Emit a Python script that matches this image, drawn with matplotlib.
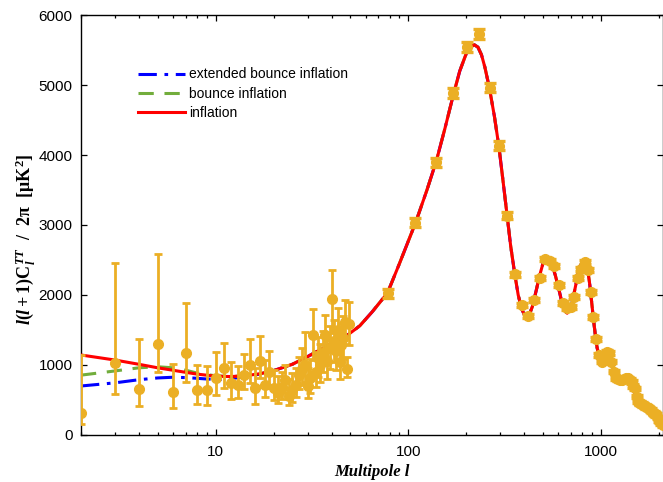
import numpy as np
import matplotlib
matplotlib.use("Agg")
import matplotlib.pyplot as plt
from matplotlib.ticker import LogLocator, NullFormatter, FixedLocator

plt.rcParams['font.family'] = ['Liberation Sans', 'DejaVu Sans']
plt.rcParams['mathtext.fontset'] = 'custom'
plt.rcParams['mathtext.rm'] = 'Liberation Serif:bold'
plt.rcParams['mathtext.it'] = 'Liberation Serif:bold:italic'
plt.rcParams['mathtext.bf'] = 'Liberation Serif:bold'

# low-l data (unbinned), value with upper / lower ends of the error bar
low_l = list(range(2, 50))
low_val = [310, 1024, 653, 1296, 610, 1176, 648, 638, 819, 952,
           748, 710, 852, 1000, 667, 1062, 714, 905, 667, 605,
           690, 780, 560, 640, 720, 860, 950, 1000, 700, 820,
           1430, 900, 1100, 1000, 1170, 1430, 1060, 1240, 1940, 1350,
           1200, 1500, 1050, 1280, 1380, 1620, 950, 1580]
low_top = [1140, 2461, 1376, 2581, 1010, 1881, 995, 981, 1186, 1319,
           1048, 986, 1157, 1376, 952, 1410, 1071, 1200, 929, 850,
           900, 1000, 800, 880, 960, 1120, 1250, 1470, 960, 1090,
           1800, 1190, 1400, 1300, 1480, 1710, 1360, 1560, 2360, 1650,
           1520, 1820, 1340, 1600, 1700, 1930, 1120, 1900]
low_bot = [157, 581, 419, 905, 390, 762, 438, 433, 567, 676,
           519, 524, 657, 738, 448, 810, 548, 667, 500, 462,
           520, 600, 430, 470, 540, 660, 720, 760, 530, 600,
           1070, 680, 830, 760, 900, 1130, 800, 950, 1460, 1050,
           930, 1200, 800, 1000, 1080, 1300, 830, 1280]

# high-l binned data
bin_l = [78, 109, 140, 171, 202, 233, 264, 295, 326, 357,
         388, 419, 450, 481, 512, 543, 574, 605, 636, 667,
         698, 729, 760, 791, 822, 853, 884, 915, 946, 977,
         1008, 1039, 1070, 1101, 1132, 1163, 1194, 1225, 1256, 1287,
         1318, 1349, 1380, 1411, 1442, 1473, 1504, 1535, 1566, 1597,
         1628, 1659, 1690, 1721, 1752, 1783, 1814, 1845, 1876, 1907,
         1938, 1969, 2000, 2031, 2062, 2093]
bin_val = [2024, 3033, 3895, 4881, 5538, 5724, 4962, 4133, 3133, 2295,
           1857, 1700, 1929, 2238, 2510, 2490, 2414, 2140, 1881, 1819,
           1833, 1976, 2248, 2367, 2476, 2357, 2038, 1690, 1367, 1143,
           1048, 1119, 1190, 1170, 1048, 905, 810, 800, 780, 790,
           800, 810, 810, 790, 760, 700, 667, 548, 476, 455,
           440, 429, 415, 400, 390, 381, 355, 333, 315, 300,
           286, 250, 214, 190, 165, 143]
bin_err = [60, 60, 65, 70, 70, 70, 65, 60, 50, 40,
           35, 30, 30, 30, 30, 30, 30, 30, 30, 30,
           30, 30, 30, 30, 30, 30, 30, 30, 30, 25,
           25, 25, 25, 25, 25, 25, 25, 25, 25, 25,
           25, 25, 25, 25, 25, 25, 25, 25, 25, 25,
           25, 25, 25, 25, 25, 25, 25, 25, 25, 25,
           25, 25, 25, 25, 25, 25]

# inflation model curve
infl_l = [2, 3, 4, 5, 6, 7, 8, 10, 12, 14, 17, 20, 25, 30, 35, 40, 48, 56, 65, 78,
          90, 109, 125, 140, 155, 171, 185, 200, 210, 220, 230, 240, 250, 264, 280,
          295, 310, 326, 340, 357, 372, 388, 400, 412, 425, 440, 460, 481, 500, 520,
          540, 560, 580, 605, 630, 650, 668, 690, 710, 730, 760, 790, 815, 835, 855,
          875, 895, 915, 935, 955, 977, 1000, 1020, 1045, 1075, 1105, 1130, 1160,
          1190, 1220, 1250, 1290, 1330, 1370, 1410, 1450, 1490, 1530, 1570, 1620,
          1680, 1740, 1800, 1860, 1920, 1980, 2040, 2100]
infl_val = [1143, 1071, 1010, 960, 925, 895, 870, 840, 835, 845, 875, 920, 1010, 1120,
            1220, 1310, 1420, 1560, 1760, 2030, 2450, 3030, 3500, 3920, 4380, 4850,
            5200, 5450, 5540, 5575, 5540, 5430, 5250, 4950, 4550, 4130, 3640, 3130,
            2700, 2300, 2000, 1800, 1720, 1695, 1720, 1830, 2050, 2280, 2450, 2530,
            2510, 2420, 2280, 2080, 1870, 1770, 1740, 1790, 1900, 2060, 2300, 2440,
            2480, 2460, 2350, 2150, 1900, 1650, 1430, 1250, 1130, 1070, 1060, 1100,
            1160, 1170, 1110, 980, 860, 790, 770, 790, 805, 800, 770, 700, 620, 560,
            510, 460, 420, 390, 350, 310, 270, 230, 195, 165]

# bounce models differ from inflation only at low l
bounce_l = [2, 3, 4, 5, 6, 7, 8, 10]
bounce_val = [855, 915, 960, 975, 960, 925, 885, 845]
ext_l = [2, 3, 4, 5, 6, 7, 8, 9, 10, 12, 14, 17]
ext_val = [700, 745, 790, 815, 825, 820, 810, 800, 795, 805, 830, 870]

orange = '#EBAF25'

fig = plt.figure(figsize=(6.63, 4.82), dpi=100)
ax = fig.add_axes([81 / 663, 47 / 482, 582 / 663, 420 / 482])

# join bounce curves onto the inflation curve where they merge
ext_x = ext_l + [l for l in infl_l if l > ext_l[-1]]
ext_y = ext_val + [v for l, v in zip(infl_l, infl_val) if l > ext_l[-1]]
bnc_x = bounce_l + [l for l in infl_l if l > bounce_l[-1]]
bnc_y = bounce_val + [v for l, v in zip(infl_l, infl_val) if l > bounce_l[-1]]

ax.plot(ext_x, ext_y, color='#0000FF', lw=2.2, dashes=(6, 2.5, 1.2, 2.5),
        label='extended bounce inflation', zorder=2)
ax.plot(bnc_x, bnc_y, color='#72AD3C', lw=2.2, dashes=(5, 3.5),
        label='bounce inflation', zorder=2)
ax.plot(infl_l, infl_val, color='#FF0000', lw=2.2, label='inflation', zorder=3)

low_val_a = np.array(low_val)
ax.errorbar(low_l, low_val,
            yerr=[low_val_a - np.array(low_bot), np.array(low_top) - low_val_a],
            fmt='o', color=orange, ms=7, elinewidth=2.0, capsize=2.8,
            capthick=2.0, zorder=4)
ax.errorbar(bin_l, bin_val, yerr=bin_err, fmt='o', color=orange, ms=7,
            elinewidth=2.0, capsize=4.6, capthick=2.4, zorder=4)

ax.set_xscale('log')
ax.set_xlim(2, 2100)
ax.set_ylim(0, 6000)
ax.xaxis.set_major_locator(FixedLocator([10, 100, 1000]))
ax.set_xticklabels(['10', '100', '1000'])
ax.xaxis.set_minor_locator(LogLocator(base=10, subs=np.arange(2, 10)))
ax.xaxis.set_minor_formatter(NullFormatter())
ax.set_yticks([0, 1000, 2000, 3000, 4000, 5000, 6000])

ax.tick_params(which='both', direction='in', top=True, right=True,
               labelsize=11, width=0.9)
ax.tick_params(which='major', length=4.5)
ax.tick_params(which='minor', length=2.5)
ax.tick_params(axis='x', pad=7)
ax.tick_params(axis='y', pad=6)
for s in ax.spines.values():
    s.set_linewidth(1.0)

ax.set_xlabel('Multipole l', fontfamily='Liberation Serif', fontweight='bold',
              fontstyle='italic', fontsize=12)
ax.xaxis.set_label_coords(0.5, -0.069)
ax.set_ylabel(r'$l(l+1)\mathrm{C}_l^{TT}\ \ /\ \ 2\mathrm{\pi}\ \ [\mathrm{\mu K}^2]$',
              fontsize=13)
ax.yaxis.set_label_coords(-0.075, 0.465)

ax.legend(loc='upper left', bbox_to_anchor=(0.098, 0.875), frameon=False,
          fontsize=10, handlelength=3.4, handletextpad=0.25,
          labelspacing=0.38, borderpad=0, borderaxespad=0)

fig.savefig('out.png', dpi=100)
